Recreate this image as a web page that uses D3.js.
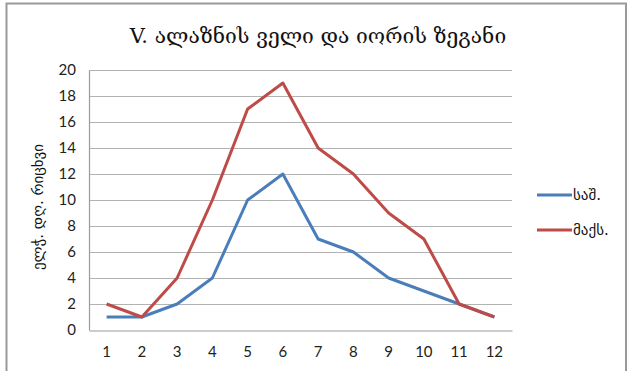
<!DOCTYPE html>
<html><head><meta charset="utf-8">
<script src="https://cdn.jsdelivr.net/npm/d3@7"></script>
<style>
html,body{margin:0;padding:0;background:#fff;}
svg{display:block;}
</style></head>
<body>
<svg id="c" width="629" height="371"></svg>
<script>
const title = "V. ალაზნის ველი და იორის ზეგანი";
const yLabel = "ელჭ. დღ. რიცხვი";
const months = ["1","2","3","4","5","6","7","8","9","10","11","12"];
const seriesNames = ["საშ.", "მაქს."];
const avgValues = [1,1,2,4,10,12,7,6,4,3,2,1];
const maxValues = [2,1,4,10,17,19,14,12,9,7,2,1];
const yTicks = [0,2,4,6,8,10,12,14,16,18,20];
const colors = ["#4a7ebb", "#be4b48"];

const svg = d3.select("#c");
const font = "Lato, 'Liberation Sans', 'DejaVu Sans', sans-serif";
const gfont = "'DejaVu Sans', sans-serif";

// frame
svg.append("rect").attr("x",6.5).attr("y",3.5).attr("width",619.5).attr("height",380)
  .attr("fill","#fff").attr("stroke","#9a9a9a").attr("stroke-width",2);

const m = {l:89, r:512, t:70, b:330};
const x = d3.scaleBand().domain(months).range([m.l, m.r]);
const y = d3.scaleLinear().domain([0,20]).range([m.b, m.t]);

// gridlines
svg.append("g").selectAll("line").data(yTicks.filter(d=>d>0)).join("line")
  .attr("x1",m.l).attr("x2",m.r).attr("y1",d=>y(d)+0.5).attr("y2",d=>y(d)+0.5)
  .attr("stroke","#b3b3b3").attr("stroke-width",1.2);

// y axis
const ya = svg.append("g").attr("transform",`translate(${m.l},0)`)
  .call(d3.axisLeft(y).tickValues(yTicks).tickSize(0).tickPadding(13));
ya.select(".domain").attr("stroke","#9a9a9a").attr("stroke-width",1.2);
ya.selectAll("text").attr("font-family",font).attr("font-size",15).attr("fill","#222");

// x axis
const xa = svg.append("g").attr("transform",`translate(0,${m.b+0.5})`)
  .call(d3.axisBottom(x).tickSize(0).tickPadding(16));
xa.select(".domain").attr("stroke","#9a9a9a").attr("stroke-width",1.2);
xa.selectAll("text").attr("font-family",font).attr("font-size",15).attr("fill","#222");

// lines
const line = d3.line().x((d,i)=>x(months[i])+x.bandwidth()/2).y(d=>y(d));
[avgValues, maxValues].forEach((vals,i)=>{
  svg.append("path").datum(vals).attr("d",line).attr("fill","none")
    .attr("stroke",colors[i]).attr("stroke-width",3).attr("stroke-linejoin","round");
});

// title
svg.append("text").attr("x",318).attr("y",43).attr("text-anchor","middle")
  .attr("font-family","'DejaVu Serif', serif").attr("font-size",21).attr("fill","#111").text(title);

// y label
svg.append("text").attr("transform","translate(43,207) rotate(-90)").attr("text-anchor","middle")
  .attr("font-family",gfont).attr("font-size",15).attr("fill","#111").text(yLabel);

// legend
const lg = svg.append("g");
seriesNames.forEach((n,i)=>{
  const yy = 195 + i*35;
  lg.append("line").attr("x1",537).attr("x2",572).attr("y1",yy).attr("y2",yy)
    .attr("stroke",colors[i]).attr("stroke-width",3);
  lg.append("text").attr("x",573).attr("y",yy+5).attr("font-family",gfont)
    .attr("font-size",15).attr("fill","#111").text(n);
});
</script>
</body></html>
